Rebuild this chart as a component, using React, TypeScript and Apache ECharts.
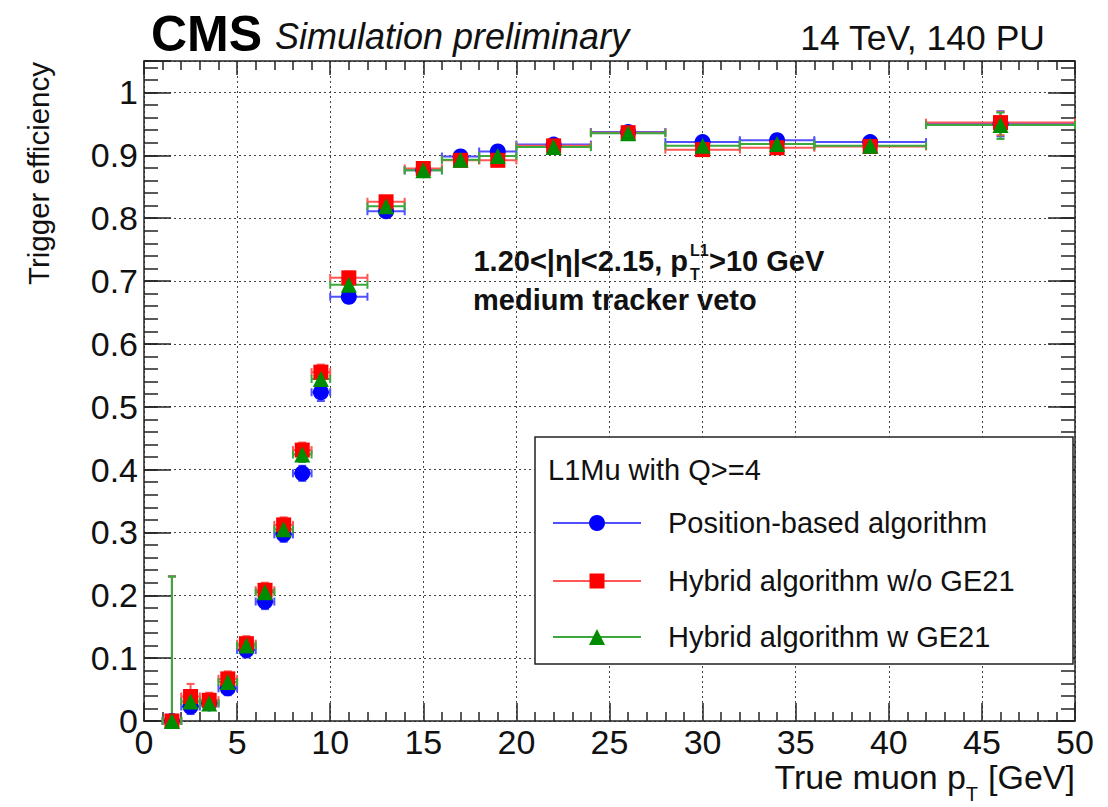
import React, { useEffect, useRef } from "react";
import * as echarts from "echarts";

const FONT = '"Liberation Sans", Arial, Helvetica, sans-serif';

// pT bins (GeV)
const ptCenter = [1.5, 2.5, 3.5, 4.5, 5.5, 6.5, 7.5, 8.5, 9.5, 11, 13, 15, 17, 19, 22, 26, 30, 34, 39, 46];
const ptLow = [1, 2, 3, 4, 5, 6, 7, 8, 9, 10, 12, 14, 16, 18, 20, 24, 28, 32, 36, 42];
const ptHigh = [2, 3, 4, 5, 6, 7, 8, 9, 10, 12, 14, 16, 18, 20, 24, 28, 32, 36, 42, 50];

// Efficiencies
const effPosition = [0, 0.023, 0.028, 0.052, 0.113, 0.19, 0.297, 0.394, 0.523, 0.675, 0.811, 0.876, 0.898, 0.906, 0.917, 0.937, 0.921, 0.924, 0.921, 0.95];
const effHybridNoGE21 = [0, 0.039, 0.033, 0.067, 0.123, 0.208, 0.312, 0.431, 0.555, 0.705, 0.826, 0.879, 0.892, 0.892, 0.915, 0.936, 0.909, 0.912, 0.914, 0.952];
const effHybridGE21 = [0, 0.031, 0.028, 0.062, 0.12, 0.205, 0.305, 0.424, 0.544, 0.694, 0.819, 0.876, 0.893, 0.899, 0.913, 0.935, 0.915, 0.918, 0.915, 0.948];

// Vertical uncertainties
const errUpPosition = [0.23, 0.015, 0.012, 0.012, 0.012, 0.012, 0.012, 0.012, 0.014, 0.01, 0.008, 0.006, 0.006, 0.006, 0.005, 0.005, 0.005, 0.005, 0.006, 0.02];
const errDownPosition = [0, 0.012, 0.01, 0.011, 0.012, 0.012, 0.012, 0.012, 0.014, 0.01, 0.008, 0.006, 0.006, 0.006, 0.005, 0.005, 0.005, 0.005, 0.006, 0.02];
const errUpHybridNoGE21 = [0.23, 0.02, 0.012, 0.012, 0.012, 0.012, 0.012, 0.012, 0.012, 0.01, 0.008, 0.006, 0.006, 0.006, 0.005, 0.005, 0.005, 0.005, 0.006, 0.017];
const errDownHybridNoGE21 = [0, 0.015, 0.01, 0.011, 0.012, 0.012, 0.012, 0.012, 0.012, 0.01, 0.008, 0.006, 0.006, 0.006, 0.005, 0.005, 0.005, 0.005, 0.006, 0.02];
const errUpHybridGE21 = [0.23, 0.015, 0.012, 0.012, 0.012, 0.012, 0.012, 0.012, 0.012, 0.01, 0.008, 0.006, 0.006, 0.006, 0.005, 0.005, 0.005, 0.005, 0.006, 0.02];
const errDownHybridGE21 = [0, 0.012, 0.01, 0.011, 0.012, 0.012, 0.012, 0.012, 0.012, 0.01, 0.008, 0.006, 0.006, 0.006, 0.005, 0.005, 0.005, 0.005, 0.006, 0.022];

const seriesNames = ["Position-based algorithm", "Hybrid algorithm w/o GE21", "Hybrid algorithm w GE21"];
const seriesColors = ["#0000ff", "#ff0000", "#008c00"];
const errColors = ["#5050ff", "#ff5656", "#3aa83a"];
const seriesSymbols = ["circle", "rect", "triangle"];
const legendTitle = "L1Mu with Q>=4";

const yTickMax = 1.0;

function buildErrData(vals: number[], up: number[], down: number[]) {
  return ptCenter.map((x, i) => [x, vals[i], ptLow[i], ptHigh[i], vals[i] - down[i], vals[i] + up[i]]);
}

function errRender(color: string) {
  return (params: any, api: any) => {
    const x = api.value(0);
    const y = api.value(1);
    const c = api.coord([x, y]);
    const l = api.coord([api.value(2), y]);
    const r = api.coord([api.value(3), y]);
    const lo = api.coord([x, api.value(4)]);
    const hi = api.coord([x, api.value(5)]);
    const cap = 4;
    const style = { stroke: color, lineWidth: 2 };
    const children: any[] = [
      { type: "line", shape: { x1: l[0], y1: l[1], x2: r[0], y2: r[1] }, style },
      { type: "line", shape: { x1: l[0], y1: l[1] - cap, x2: l[0], y2: l[1] + cap }, style },
      { type: "line", shape: { x1: r[0], y1: r[1] - cap, x2: r[0], y2: r[1] + cap }, style },
    ];
    if (c[1] - hi[1] > 0.5) {
      children.push({ type: "line", shape: { x1: c[0], y1: c[1], x2: hi[0], y2: hi[1] }, style });
      children.push({ type: "line", shape: { x1: hi[0] - cap, y1: hi[1], x2: hi[0] + cap, y2: hi[1] }, style });
    }
    if (lo[1] - c[1] > 0.5) {
      children.push({ type: "line", shape: { x1: c[0], y1: c[1], x2: lo[0], y2: lo[1] }, style });
      children.push({ type: "line", shape: { x1: lo[0] - cap, y1: lo[1], x2: lo[0] + cap, y2: lo[1] }, style });
    }
    return { type: "group", children };
  };
}

const axisColor = "#222";
const gridLine = { show: true, lineStyle: { type: [2, 3], color: "#444", width: 1 } };

function txt(x: number, y: number, text: string, size: number, align: string, extra: any = {}) {
  return {
    type: "text",
    x,
    y,
    style: {
      text,
      fontSize: size,
      fontFamily: FONT,
      fill: "#111",
      align,
      verticalAlign: "middle",
      textAlign: align,
      textVerticalAlign: "middle",
      ...extra,
    },
  };
}

export default function App() {
  const ref = useRef<HTMLDivElement>(null);

  useEffect(() => {
    if (!ref.current) return;
    const chart = echarts.init(ref.current, undefined, { renderer: "svg" });

    const effs = [effPosition, effHybridNoGE21, effHybridGE21];
    const ups = [errUpPosition, errUpHybridNoGE21, errUpHybridGE21];
    const downs = [errDownPosition, errDownHybridNoGE21, errDownHybridGE21];

    const series: any[] = [];
    effs.forEach((eff, k) => {
      series.push({
        type: "custom",
        name: seriesNames[k] + " errors",
        xAxisIndex: 0,
        yAxisIndex: 0,
        renderItem: errRender(errColors[k]),
        encode: { x: 0, y: 1 },
        data: buildErrData(eff, ups[k], downs[k]),
        silent: true,
      });
      series.push({
        type: "scatter",
        name: seriesNames[k],
        xAxisIndex: 0,
        yAxisIndex: 0,
        symbol: seriesSymbols[k],
        symbolSize: k === 1 ? 15 : 16,
        itemStyle: { color: seriesColors[k], opacity: 1 },
        data: ptCenter.map((x, i) => [x, eff[i]]),
        silent: true,
      });
    });

    const legendX = 535, legendY = 437, legendW = 538, legendH = 227;
    const rowsY = [523, 581, 637];
    const legendEls: any[] = [
      { type: "rect", shape: { x: legendX, y: legendY, width: legendW, height: legendH }, style: { fill: "#fff", stroke: "#222", lineWidth: 1.5 }, z: 100 },
      { ...txt(548, 470, legendTitle, 29, "left"), z: 101 },
    ];
    rowsY.forEach((yy, k) => {
      legendEls.push({ type: "line", shape: { x1: 553, y1: yy, x2: 641, y2: yy }, style: { stroke: errColors[k], lineWidth: 2 }, z: 101 });
      if (k === 0) legendEls.push({ type: "circle", shape: { cx: 597, cy: yy, r: 8 }, style: { fill: seriesColors[k] }, z: 102 });
      if (k === 1) legendEls.push({ type: "rect", shape: { x: 589.5, y: yy - 7.5, width: 15, height: 15 }, style: { fill: seriesColors[k] }, z: 102 });
      if (k === 2) legendEls.push({ type: "polygon", shape: { points: [[597, yy - 8], [605, yy + 8], [589, yy + 8]] }, style: { fill: seriesColors[k] }, z: 102 });
      legendEls.push({ ...txt(668, yy, seriesNames[k], 29, "left"), z: 101 });
    });

    const textEls: any[] = [
      txt(151, 34, "CMS", 50, "left", { fontWeight: "bold", fill: "#000" }),
      txt(275, 36, "Simulation preliminary", 36, "left", { fontStyle: "italic" }),
      txt(1045, 38, "14 TeV, 140 PU", 35.5, "right"),
      { ...txt(38, 62, "Trigger efficiency", 29.5, "right"), rotation: Math.PI / 2 },
      // x-axis title with subscript
      txt(1075, 777, " [GeV]", 34, "right"),
      txt(978, 794, "T", 20, "right"),
      txt(966, 777, "True muon p", 34, "right"),
      // annotation
      txt(688, 261, "1.20<|η|<2.15, p", 29, "right", { fontWeight: "bold" }),
      txt(690, 250, "L1", 16, "left", { fontWeight: "bold" }),
      txt(690, 274, "T", 16, "left", { fontWeight: "bold" }),
      txt(709, 261, ">10 GeV", 29, "left", { fontWeight: "bold" }),
      txt(473, 300, "medium tracker veto", 29, "left", { fontWeight: "bold" }),
    ];

    const lineStyle = { color: axisColor, width: 1.5 };

    const option: any = {
      animation: false,
      backgroundColor: "#fff",
      grid: { left: 144, right: 33, top: 61, bottom: 86, containLabel: false },
      xAxis: [
        {
          type: "value", min: 0, max: 50, interval: 5, position: "bottom",
          axisLine: { show: true, onZero: false, lineStyle },
          axisTick: { show: true, inside: true, length: 18, lineStyle },
          minorTick: { show: true, splitNumber: 5, length: 9, lineStyle },
          splitLine: gridLine,
          axisLabel: { show: true, fontSize: 34, fontFamily: FONT, color: "#111", margin: 4 },
        },
        {
          type: "value", min: 0, max: 50, interval: 5, position: "top",
          axisLine: { show: true, onZero: false, lineStyle },
          axisTick: { show: true, inside: true, length: 14, lineStyle },
          minorTick: { show: true, splitNumber: 5, length: 9, lineStyle },
          splitLine: { show: false },
          axisLabel: { show: false },
        },
      ],
      yAxis: [
        {
          type: "value", min: 0, max: 1.05, interval: 0.1, position: "left",
          axisLine: { show: true, onZero: false, lineStyle },
          axisTick: { show: true, inside: true, length: 27, lineStyle },
          splitLine: gridLine,
          axisLabel: {
            show: true, fontSize: 34, fontFamily: FONT, color: "#111", margin: 6,
            formatter: (v: number) => (v > yTickMax + 0.001 ? "" : v === 0 ? "0" : Math.abs(v - 1) < 1e-6 ? "1" : v.toFixed(1)),
          },
        },
        {
          type: "value", min: 0, max: 1.05, interval: 0.02, position: "left",
          axisLine: { show: false, onZero: false },
          axisTick: { show: true, inside: true, length: 14, lineStyle },
          splitLine: { show: false },
          axisLabel: { show: false },
        },
        {
          type: "value", min: 0, max: 1.05, interval: 0.1, position: "right",
          axisLine: { show: true, onZero: false, lineStyle },
          axisTick: { show: true, inside: true, length: 27, lineStyle },
          splitLine: { show: false },
          axisLabel: { show: false },
        },
        {
          type: "value", min: 0, max: 1.05, interval: 0.02, position: "right",
          axisLine: { show: false, onZero: false },
          axisTick: { show: true, inside: true, length: 14, lineStyle },
          splitLine: { show: false },
          axisLabel: { show: false },
        },
      ],
      series,
      graphic: [...textEls, ...legendEls],
    };

    chart.setOption(option);
    return () => chart.dispose();
  }, []);

  return <div ref={ref} style={{ position: "fixed", left: 0, top: 0, width: 1108, height: 807, background: "#fff" }} />;
}
